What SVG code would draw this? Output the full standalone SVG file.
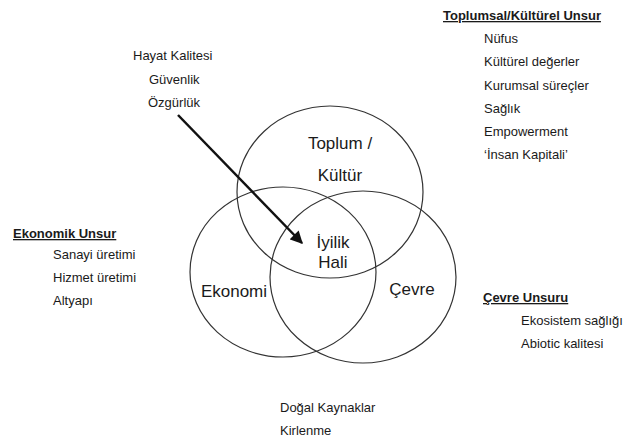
<svg xmlns="http://www.w3.org/2000/svg" width="625" height="439" viewBox="0 0 625 439">
<style>
.c{fill:none;stroke:#333;stroke-width:1.2}
.s{font-family:"Liberation Sans",Arial,sans-serif;font-size:13px;fill:#1a1a1a}
.h{font-family:"Liberation Sans",Arial,sans-serif;font-size:13px;font-weight:bold;fill:#1a1a1a;text-decoration:underline}
.b{font-family:"Liberation Sans",Arial,sans-serif;font-size:17px;fill:#1a1a1a;text-anchor:middle}
</style>
<defs>
<marker id="ah" viewBox="0 0 10 10" refX="9" refY="5" markerWidth="5.5" markerHeight="5" orient="auto" markerUnits="strokeWidth">
<path d="M0,0 L10,5 L0,10 z" fill="#111"/>
</marker>
</defs>
<rect width="625" height="439" fill="#fff"/>
<g id="toplum">
<ellipse class="c" cx="330" cy="192" rx="93" ry="86"/>
<text class="b" x="340" y="149">Toplum /</text>
<text class="b" x="340" y="181">Kültür</text>
</g>
<g id="ekonomi">
<ellipse class="c" cx="283" cy="272" rx="93" ry="85"/>
<text class="b" x="234" y="297">Ekonomi</text>
</g>
<g id="cevre">
<ellipse class="c" cx="363" cy="277" rx="93" ry="86"/>
<text class="b" x="412" y="295">Çevre</text>
</g>
<g id="iyilik">
<text class="b" x="333" y="248">İyilik</text>
<text class="b" x="333" y="268">Hali</text>
</g>
<g id="hayat">
<text class="s" x="133" y="60">Hayat Kalitesi</text>
<text class="s" x="149" y="84">Güvenlik</text>
<text class="s" x="148" y="107">Özgürlük</text>
</g>
<g id="toplumsal-unsur">
<text class="h" x="443" y="20">Toplumsal/Kültürel Unsur</text>
<text class="s" x="484" y="43">Nüfus</text>
<text class="s" x="484" y="66">Kültürel değerler</text>
<text class="s" x="484" y="90">Kurumsal süreçler</text>
<text class="s" x="484" y="113">Sağlık</text>
<text class="s" x="484" y="136">Empowerment</text>
<text class="s" x="484" y="159">‘İnsan Kapitali’</text>
</g>
<g id="ekonomik-unsur">
<text class="h" x="13" y="238">Ekonomik Unsur</text>
<text class="s" x="53" y="259">Sanayi üretimi</text>
<text class="s" x="53" y="282">Hizmet üretimi</text>
<text class="s" x="53" y="305">Altyapı</text>
</g>
<g id="cevre-unsuru">
<text class="h" x="483" y="302">Çevre Unsuru</text>
<text class="s" x="521" y="325">Ekosistem sağlığı</text>
<text class="s" x="521" y="348">Abiotic kalitesi</text>
</g>
<g id="kaynak">
<text class="s" x="280" y="412">Doğal Kaynaklar</text>
<text class="s" x="280" y="435">Kirlenme</text>
</g>
<g id="connectors">
<line x1="178" y1="115" x2="302" y2="243" stroke="#111" stroke-width="2.5" marker-end="url(#ah)"/>
</g>
</svg>
